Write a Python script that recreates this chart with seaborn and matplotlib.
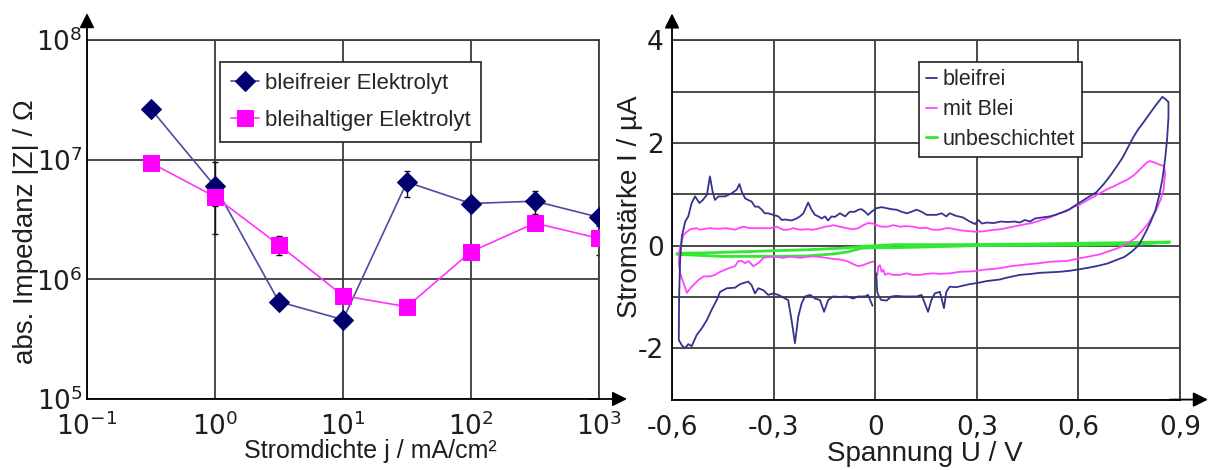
import numpy as np
import pandas as pd
import matplotlib
matplotlib.use("Agg")
import matplotlib.pyplot as plt
import seaborn as sns

# --------------------------------------------------------------
# Daten: Impedanz (links)
# --------------------------------------------------------------
stromdichte = [0.316, 1.0, 3.16, 10.0, 31.6, 100.0, 316.0, 1000.0]
z_bleifrei = [2.65e7, 6.0e6, 6.5e5, 4.6e5, 6.5e6, 4.3e6, 4.5e6, 3.3e6]
z_bleifrei_err = [0, 3.6e6, 0, 0, 1.6e6, 0, 1.0e6, 0]
z_bleihaltig = [9.4e6, 4.9e6, 1.94e6, 7.3e5, 5.9e5, 1.7e6, 2.95e6, 2.2e6]
z_bleihaltig_err = [0, 0.8e6, 0.35e6, 0, 0, 0, 0, 0.6e6]

# --------------------------------------------------------------
# Daten: Zyklovoltammogramm (rechts)
# --------------------------------------------------------------
bleifrei_u = [0.003, 0.006, 0.011, 0.018, 0.034, 0.048, 0.063, 0.083, 0.102, 0.122, 0.137, 0.156, 0.166, 0.176,
              0.191, 0.203, 0.210, 0.220, 0.239, 0.259, 0.279, 0.300, 0.330, 0.368, 0.391, 0.427, 0.462, 0.486,
              0.515, 0.545, 0.574, 0.604, 0.630, 0.653, 0.685, 0.716, 0.736, 0.757, 0.772, 0.782, 0.797, 0.812,
              0.828, 0.838, 0.848, 0.856, 0.862, 0.866, 0.866, 0.858, 0.848, 0.828, 0.807, 0.792, 0.777, 0.762,
              0.746, 0.731, 0.716, 0.696, 0.675, 0.653, 0.633, 0.604, 0.574, 0.553, 0.533, 0.516, 0.493, 0.472,
              0.457, 0.442, 0.427, 0.411, 0.391, 0.371, 0.350, 0.330, 0.315, 0.305, 0.295, 0.279, 0.259, 0.239,
              0.220, 0.210, 0.196, 0.181, 0.166, 0.152, 0.137, 0.122, 0.107, 0.093, 0.078, 0.063, 0.048, 0.034,
              0.019, 0.004, -0.011, -0.021, -0.030, -0.040, -0.050, -0.060, -0.075, -0.089, -0.104, -0.119,
              -0.129, -0.139, -0.148, -0.158, -0.168, -0.178, -0.188, -0.198, -0.212, -0.222, -0.232, -0.247,
              -0.257, -0.266, -0.276, -0.286, -0.301, -0.316, -0.326, -0.335, -0.345, -0.355, -0.365, -0.375,
              -0.384, -0.394, -0.401, -0.409, -0.424, -0.443, -0.463, -0.473, -0.480, -0.488, -0.497, -0.509,
              -0.519, -0.532, -0.542, -0.552, -0.561, -0.571, -0.576, -0.579, -0.580, -0.571, -0.562, -0.552,
              -0.542, -0.527, -0.512, -0.497, -0.483, -0.468, -0.458, -0.438, -0.414, -0.399, -0.375, -0.365,
              -0.355, -0.345, -0.330, -0.316, -0.301, -0.286, -0.266, -0.257, -0.247, -0.237, -0.227, -0.217,
              -0.207, -0.192, -0.178, -0.163, -0.151, -0.139, -0.124, -0.104, -0.084, -0.065, -0.050, -0.030,
              -0.021, -0.008]
bleifrei_i = [-0.54, -0.90, -0.99, -1.06, -1.07, -0.99, -0.98, -0.99, -0.99, -0.99, -0.96, -1.29, -1.06, -0.93,
              -0.90, -1.22, -0.90, -0.80, -0.81, -0.78, -0.75, -0.73, -0.69, -0.66, -0.62, -0.57, -0.55, -0.53,
              -0.52, -0.51, -0.49, -0.46, -0.43, -0.40, -0.35, -0.27, -0.22, -0.12, -0.03, 0.05, 0.24, 0.44,
              0.70, 0.96, 1.29, 1.68, 2.08, 2.50, 2.80, 2.85, 2.90, 2.73, 2.54, 2.40, 2.27, 2.11,
              1.91, 1.72, 1.57, 1.38, 1.20, 1.04, 0.96, 0.84, 0.71, 0.65, 0.60, 0.57, 0.55, 0.53,
              0.47, 0.50, 0.45, 0.47, 0.46, 0.47, 0.44, 0.45, 0.43, 0.50, 0.42, 0.47, 0.55, 0.58,
              0.63, 0.57, 0.63, 0.60, 0.60, 0.60, 0.66, 0.70, 0.66, 0.63, 0.66, 0.70, 0.71, 0.73,
              0.75, 0.73, 0.66, 0.60, 0.66, 0.71, 0.70, 0.66, 0.66, 0.57, 0.63, 0.56,
              0.57, 0.49, 0.57, 0.53, 0.57, 0.60, 0.70, 0.84, 0.63, 0.57, 0.53, 0.49,
              0.50, 0.51, 0.50, 0.57, 0.60, 0.63, 0.63, 0.70, 0.76, 0.76, 0.86, 0.89,
              0.92, 1.05, 1.20, 1.09, 1.02, 0.96, 0.96, 0.89, 1.05, 1.35, 0.99, 0.89,
              0.83, 0.96, 0.83, 0.57, 0.47, 0.18, -0.28, -1.00, -1.84, -1.94, -2.00, -1.92,
              -1.96, -1.74, -1.61, -1.45, -1.25, -1.06, -0.90, -0.83, -0.82, -0.75, -0.70, -0.77,
              -0.93, -0.83, -0.87, -0.96, -0.93, -0.96, -1.03, -1.06, -1.45, -1.90, -1.38, -1.12,
              -0.99, -0.96, -1.03, -1.06, -1.29, -1.06, -0.99, -1.00, -0.99, -1.03, -0.99, -0.99,
              -0.96, -1.17]

mitblei_u = [0.006, 0.009, 0.014, 0.019, 0.024, 0.029, 0.038, 0.053, 0.073, 0.092, 0.112, 0.132, 0.151, 0.171,
             0.191, 0.220, 0.250, 0.289, 0.320, 0.368, 0.401, 0.442, 0.486, 0.523, 0.565, 0.594, 0.625, 0.663,
             0.685, 0.716, 0.746, 0.767, 0.787, 0.807, 0.828, 0.843, 0.852, 0.856, 0.853, 0.843, 0.828, 0.812,
             0.802, 0.787, 0.767, 0.746, 0.726, 0.706, 0.685, 0.663, 0.645, 0.625, 0.604, 0.584, 0.565, 0.543,
             0.516, 0.486, 0.462, 0.437, 0.401, 0.371, 0.340, 0.320, 0.299, 0.279, 0.250, 0.220, 0.210, 0.191,
             0.171, 0.151, 0.132, 0.112, 0.092, 0.073, 0.053, 0.038, 0.019, 0.004, -0.006, -0.021, -0.035,
             -0.050, -0.065, -0.084, -0.104, -0.124, -0.134, -0.148, -0.163, -0.183, -0.203, -0.222, -0.242,
             -0.257, -0.272, -0.291, -0.310, -0.330, -0.350, -0.370, -0.389, -0.404, -0.414, -0.428, -0.443,
             -0.458, -0.473, -0.488, -0.502, -0.517, -0.527, -0.537, -0.546, -0.556, -0.566, -0.578, -0.580,
             -0.576, -0.566, -0.556, -0.546, -0.537, -0.522, -0.507, -0.488, -0.473, -0.458, -0.443, -0.428,
             -0.414, -0.404, -0.394, -0.384, -0.374, -0.360, -0.345, -0.330, -0.310, -0.291, -0.272, -0.252,
             -0.222, -0.203, -0.183, -0.163, -0.143, -0.124, -0.104, -0.084, -0.065, -0.050, -0.035, -0.021,
             -0.006]
mitblei_i = [-0.57, -0.41, -0.38, -0.51, -0.47, -0.57, -0.54, -0.57, -0.57, -0.54, -0.57, -0.57, -0.55, -0.54,
             -0.55, -0.54, -0.51, -0.50, -0.47, -0.44, -0.40, -0.37, -0.34, -0.31, -0.30, -0.26, -0.22, -0.17,
             -0.12, -0.05, 0.05, 0.14, 0.28, 0.44, 0.67, 0.90, 1.10, 1.42, 1.55, 1.57, 1.61, 1.65,
             1.62, 1.52, 1.39, 1.29, 1.23, 1.16, 1.10, 1.02, 0.95, 0.88, 0.80, 0.75, 0.67, 0.63,
             0.55, 0.49, 0.44, 0.41, 0.36, 0.32, 0.30, 0.28, 0.27, 0.28, 0.30, 0.34, 0.34, 0.31,
             0.31, 0.35, 0.34, 0.37, 0.38, 0.37, 0.40, 0.37, 0.37, 0.40, 0.43, 0.44, 0.40,
             0.34, 0.32, 0.34, 0.37, 0.40, 0.38, 0.37, 0.34, 0.31, 0.32, 0.31, 0.34,
             0.31, 0.31, 0.37, 0.34, 0.34, 0.34, 0.34, 0.37, 0.34, 0.31, 0.33, 0.34,
             0.33, 0.33, 0.34, 0.33, 0.31, 0.34, 0.33, 0.32, 0.27, 0.21, -0.08, -0.34,
             -0.54, -0.73, -0.92, -0.83, -0.77, -0.67, -0.60, -0.60, -0.57, -0.51, -0.47, -0.43,
             -0.40, -0.30, -0.30, -0.34, -0.30, -0.40, -0.34, -0.24, -0.21, -0.22, -0.24, -0.21,
             -0.24, -0.22, -0.21, -0.22, -0.24, -0.26, -0.27, -0.30, -0.36, -0.40, -0.38, -0.34,
             -0.31]

unbesch_u = [-0.585, -0.5, -0.4, -0.3, -0.2, -0.1, -0.03, 0.0, 0.06, 0.25, 0.45, 0.65, 0.87,
             0.78, 0.6, 0.3, 0.06, 0.0, -0.04, -0.08, -0.12, -0.2, -0.3, -0.45, -0.585]
unbesch_i = [-0.15, -0.14, -0.12, -0.10, -0.08, -0.05, -0.01, 0.0, 0.02, 0.02, 0.03, 0.05, 0.07,
             0.03, 0.01, 0.0, -0.04, -0.04, -0.05, -0.12, -0.16, -0.20, -0.21, -0.21, -0.17]

# --------------------------------------------------------------
# Stil
# --------------------------------------------------------------
sns.set_style("white")
plt.rcParams["font.family"] = ["Liberation Sans", "DejaVu Sans"]
plt.rcParams["mathtext.fontset"] = "dejavusans"
TXT = "#1e1e1e"
GRID = "#3c3c3c"
TICKFONT = dict(family="DejaVu Sans", size=19, color=TXT)

fig = plt.figure(figsize=(12.08, 4.70), dpi=100)
ax1 = fig.add_axes([0.0720, 0.1511, 0.4238, 0.7638])
ax2 = fig.add_axes([0.5563, 0.1498, 0.4205, 0.7643])


def rahmen(ax):
    ax.set_axisbelow(True)
    ax.grid(True, color=GRID, lw=1.3)
    for s in ax.spines.values():
        s.set_color(GRID)
        s.set_linewidth(1.3)
    ax.spines["left"].set_color("k")
    ax.spines["bottom"].set_color("k")
    ax.tick_params(axis="both", which="minor", length=0)
    # Achsenpfeile
    ax.annotate("", xy=(0, 1.075), xytext=(0, 1.0), xycoords="axes fraction",
                arrowprops=dict(arrowstyle="-|>", color="k", lw=1.3, mutation_scale=22,
                                shrinkA=0, shrinkB=0), annotation_clip=False)
    ax.annotate("", xy=(1.055, 0), xytext=(0.98, 0), xycoords="axes fraction",
                arrowprops=dict(arrowstyle="-|>", color="k", lw=1.3, mutation_scale=22,
                                shrinkA=0, shrinkB=0), annotation_clip=False)


# --------------------------------------------------------------
# Links: Impedanz vs. Stromdichte
# --------------------------------------------------------------
ax = ax1
ax.errorbar(stromdichte, z_bleifrei, yerr=z_bleifrei_err, fmt="none", ecolor="#111111",
            elinewidth=1.0, capsize=2, zorder=2)
ax.errorbar(stromdichte, z_bleihaltig, yerr=z_bleihaltig_err, fmt="none", ecolor="#111111",
            elinewidth=1.0, capsize=2, zorder=2)
sns.lineplot(x=stromdichte, y=z_bleifrei, ax=ax, color="#4b4ba3", lw=1.2, marker="D", ms=10,
             markerfacecolor="#00006e", markeredgecolor="#00006e", label="bleifreier Elektrolyt", zorder=3)
sns.lineplot(x=stromdichte, y=z_bleihaltig, ax=ax, color="#ff33ff", lw=1.2, marker="s", ms=11,
             markerfacecolor="#ff00ff", markeredgecolor="#ff00ff", label="bleihaltiger Elektrolyt", zorder=3)
ax.set_xscale("log")
ax.set_yscale("log")
ax.set_xlim(0.1, 1000)
ax.set_ylim(1e5, 1e8)
ax.set_xticks([0.1, 1, 10, 100, 1000])
ax.set_xticklabels([r"$10^{-1}$", r"$10^{0}$", r"$10^{1}$", r"$10^{2}$", r"$10^{3}$"], **TICKFONT)
ax.set_yticks([1e5, 1e6, 1e7, 1e8])
ax.set_yticklabels([r"$10^{5}$", r"$10^{6}$", r"$10^{7}$", r"$10^{8}$"], **TICKFONT)
rahmen(ax)
ax.tick_params(axis="x", which="major", direction="out", length=4, width=1.2, color="k", pad=6)
ax.tick_params(axis="y", which="major", length=0, pad=3)
ax.set_xlabel("Stromdichte j / mA/cm²", fontsize=18, color=TXT)
ax.set_ylabel("abs. Impedanz |Z| / Ω", fontsize=20, color=TXT)
ax.xaxis.set_label_coords(0.553, -0.112)
ax.yaxis.set_label_coords(-0.094, 0.465)
leg = ax.legend(loc="upper left", bbox_to_anchor=(0.26, 0.939), borderaxespad=0, fontsize=16,
                frameon=True, fancybox=False, framealpha=1, edgecolor="#222222",
                handlelength=1.25, handletextpad=0.25, labelspacing=0.7, borderpad=0.5)
leg.get_frame().set_linewidth(1.2)

# --------------------------------------------------------------
# Rechts: Zyklovoltammogramm
# --------------------------------------------------------------
ax = ax2
sns.lineplot(x=unbesch_u, y=unbesch_i, ax=ax, sort=False, estimator=None, color="#33e833", lw=2.0,
             label="unbeschichtet", zorder=3)
sns.lineplot(x=mitblei_u, y=mitblei_i, ax=ax, sort=False, estimator=None, color="#ff44ff", lw=1.3,
             label="mit Blei", zorder=4)
sns.lineplot(x=bleifrei_u, y=bleifrei_i, ax=ax, sort=False, estimator=None, color="#34348f", lw=1.3,
             label="bleifrei", zorder=5)
ax.set_xlim(-0.6, 0.9)
ax.set_ylim(-3, 4)
ax.set_xticks([-0.6, -0.3, 0, 0.3, 0.6, 0.9])
ax.set_xticklabels(["-0,6", "-0,3", "0", "0,3", "0,6", "0,9"], **TICKFONT)
ax.set_yticks([-3, -2, -1, 0, 1, 2, 3, 4])
ax.set_yticklabels(["", "-2", "", "0", "", "2", "", "4"], **TICKFONT)
rahmen(ax)
ax.tick_params(axis="x", which="major", direction="out", length=5, width=1.2, color="k", pad=6)
ax.tick_params(axis="y", which="major", direction="out", length=5, width=1.2, color="k", pad=1)
ax.set_xlabel("Spannung U / V", fontsize=20, color=TXT)
ax.set_ylabel("Stromstärke I / µA", fontsize=20, color=TXT)
ax.xaxis.set_label_coords(0.498, -0.115)
ax.yaxis.set_label_coords(-0.058, 0.536)
h, l = ax.get_legend_handles_labels()
order = [l.index("bleifrei"), l.index("mit Blei"), l.index("unbeschichtet")]
leg2 = ax.legend([h[i] for i in order], [l[i] for i in order], loc="upper left",
                 bbox_to_anchor=(0.486, 0.94), borderaxespad=0, fontsize=15.5, frameon=True,
                 fancybox=False, framealpha=1, edgecolor="#222222", handlelength=0.5,
                 handletextpad=0.25, labelspacing=0.4, borderpad=0.35)
leg2.get_frame().set_linewidth(1.2)

fig.savefig("out.png", dpi=100)
